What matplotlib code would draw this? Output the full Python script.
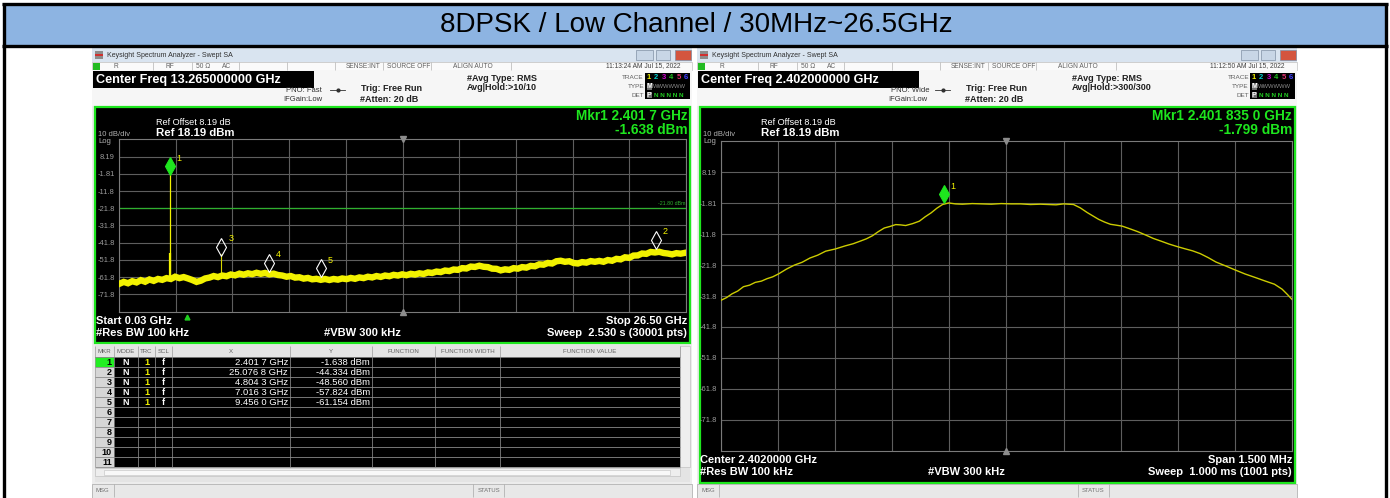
import matplotlib
matplotlib.use("Agg")
import matplotlib.pyplot as plt
from matplotlib.patches import Rectangle
from matplotlib import transforms

# ---------------- data ----------------
title = "8DPSK / Low Channel / 30MHz~26.5GHz"

ref_level = 18.19
db_per_div = 10
grid_labels = ["8.19", "-1.81", "-11.8", "-21.8", "-31.8", "-41.8", "-51.8", "-61.8", "-71.8"]

# left: full sweep 0.03 - 26.5 GHz
sweep_start, sweep_stop = 0.03, 26.50
sweep_freq = [0.03, 0.25, 0.45, 0.65, 0.85, 1.05, 1.25, 1.45, 1.65, 1.85, 2.05, 2.25, 2.45,
              2.65, 2.85, 3.05, 3.25, 3.45, 3.65, 3.85, 4.05, 4.25, 4.45, 4.65, 4.85, 5.05,
              5.25, 5.45, 5.65, 5.85, 6.05, 6.25, 6.45, 6.65, 6.85, 7.05, 7.25, 7.45, 7.65,
              7.85, 8.05, 8.25, 8.45, 8.65, 8.85, 9.05, 9.25, 9.45, 9.65, 9.85, 10.05, 10.25,
              10.45, 10.65, 10.85, 11.05, 11.25, 11.45, 11.65, 11.85, 12.05, 12.25, 12.45,
              12.65, 12.85, 13.05, 13.25, 13.45, 13.65, 13.85, 14.05, 14.25, 14.45, 14.65,
              14.85, 15.05, 15.25, 15.45, 15.65, 15.85, 16.05, 16.25, 16.45, 16.65, 16.85,
              17.05, 17.25, 17.45, 17.65, 17.85, 18.05, 18.25, 18.45, 18.65, 18.85, 19.05,
              19.25, 19.45, 19.65, 19.85, 20.05, 20.25, 20.45, 20.65, 20.85, 21.05, 21.25,
              21.45, 21.65, 21.85, 22.05, 22.25, 22.45, 22.65, 22.85, 23.05, 23.25, 23.45,
              23.65, 23.85, 24.05, 24.25, 24.45, 24.65, 24.85, 25.05, 25.25, 25.45, 25.65,
              25.85, 26.05, 26.25, 26.50]
sweep_level = [-65.8, -64.6, -65.4, -64.2, -64.9, -63.6, -64.5, -63.2, -64.0, -62.9, -63.4,
               -62.4, -62.9, -61.6, -62.4, -61.8, -62.6, -63.5, -64.6, -63.9, -62.6, -62.1,
               -61.2, -61.8, -60.9, -61.3, -60.3, -60.8, -59.8, -60.4, -59.6, -60.1, -59.3,
               -59.9, -59.4, -60.2, -59.8, -60.6, -60.9, -61.6, -61.2, -62.1, -61.9, -62.7,
               -62.3, -63.1, -62.8, -63.4, -62.9, -63.5, -62.9, -63.3, -62.6, -63.0, -62.3,
               -62.8, -62.0, -62.4, -61.6, -62.0, -61.2, -61.7, -60.9, -61.3, -60.5, -60.9,
               -60.2, -60.7, -59.9, -60.3, -59.6, -60.0, -59.1, -59.4, -58.6, -58.9, -58.0,
               -58.3, -57.4, -57.6, -56.6, -56.8, -55.7, -55.9, -55.2, -55.8, -56.0, -56.9,
               -57.0, -57.9, -57.3, -57.6, -56.6, -56.9, -56.0, -56.3, -55.3, -55.5, -54.4,
               -54.6, -53.6, -53.9, -52.6, -52.3, -52.9, -52.6, -53.6, -53.9, -53.1, -53.4,
               -52.5, -52.9, -52.4, -52.9, -51.9, -52.3, -51.2, -51.5, -50.3, -50.6, -49.3,
               -49.2, -48.1, -48.3, -47.2, -47.5, -47.1, -47.8, -48.1, -48.6, -47.9, -48.2,
               -47.6]
spike_freq = [2.4017, 2.3950, 4.8043]
spike_base = [-62.6, -62.6, -61.0]
spike_top = [-1.638, -48.0, -48.56]
display_line = -21.80
sweep_pointer = 3.2

mkr_id = ["1", "2", "3", "4", "5"]
mkr_freq = [2.4017, 25.0768, 4.8043, 7.0163, 9.4560]
mkr_level = [-1.638, -44.334, -48.560, -57.824, -61.154]
mkr_x_text = ["2.401 7 GHz", "25.076 8 GHz", "4.804 3 GHz", "7.016 3 GHz", "9.456 0 GHz"]
mkr_y_text = ["-1.638 dBm", "-44.334 dBm", "-48.560 dBm", "-57.824 dBm", "-61.154 dBm"]
table_rows = 11

# right: 2.402 GHz centre, 1.5 MHz span
zoom_center, zoom_span = 2.402, 0.0015
zoom_freq = [2.401250, 2.401265, 2.401279, 2.401294, 2.401309, 2.401325, 2.401340, 2.401356,
             2.401371, 2.401386, 2.401402, 2.401422, 2.401443, 2.401463, 2.401484, 2.401504,
             2.401525, 2.401550, 2.401576, 2.401597, 2.401617, 2.401632, 2.401648, 2.401663,
             2.401679, 2.401694, 2.401709, 2.401722, 2.401735, 2.401753, 2.401771, 2.401786,
             2.401802, 2.401817, 2.401832, 2.401848, 2.401866, 2.401884, 2.401910, 2.401935,
             2.401960, 2.401986, 2.402012, 2.402037, 2.402063, 2.402089, 2.402110, 2.402130,
             2.402150, 2.402163, 2.402176, 2.402194, 2.402212, 2.402227, 2.402242, 2.402258,
             2.402273, 2.402289, 2.402304, 2.402325, 2.402345, 2.402366, 2.402386, 2.402407,
             2.402427, 2.402448, 2.402468, 2.402489, 2.402509, 2.402530, 2.402550, 2.402576,
             2.402601, 2.402627, 2.402653, 2.402678, 2.402704, 2.402714, 2.402724, 2.402737,
             2.402750]
zoom_level = [-33.2, -32.3, -31.1, -30.2, -28.8, -28.3, -27.4, -27.0, -26.2, -25.6, -24.6,
              -23.1, -21.8, -20.9, -19.5, -18.6, -17.3, -16.6, -15.6, -14.9, -14.0, -13.3,
              -12.3, -11.0, -9.8, -9.3, -8.7, -8.8, -9.0, -8.4, -7.6, -6.2, -4.9, -3.4,
              -2.2, -1.7, -2.0, -2.1, -1.9, -2.0, -2.1, -1.9, -2.0, -2.0, -2.2, -2.1, -2.2,
              -2.3, -2.0, -2.1, -2.2, -3.3, -4.8, -5.9, -7.0, -7.9, -8.6, -8.9, -9.2, -10.1,
              -11.0, -12.1, -13.2, -14.1, -15.0, -15.8, -16.5, -17.2, -18.1, -19.4, -20.8,
              -22.1, -23.4, -24.7, -25.8, -26.9, -28.0, -28.8, -29.6, -31.2, -32.9]
zoom_mkr_freq = [2.4018350]
zoom_mkr_level = [-1.799]

# ---------------- canvas ----------------
W, H = 1390, 498
fig = plt.figure(figsize=(W / 100, H / 100), dpi=100)
bg = fig.add_axes([0, 0, 1, 1])
bg.set_xlim(0, W)
bg.set_ylim(H, 0)
bg.axis("off")

NARROW = ["Liberation Sans Narrow", "Liberation Sans", "DejaVu Sans"]
SANS = ["Liberation Sans", "DejaVu Sans"]
GREEN = "#1ee61e"
YELLOW = "#f2f200"


def box(x0, y0, x1, y1, fc, ec="none", lw=0.0, z=1):
    bg.add_patch(Rectangle((x0, y0), x1 - x0, y1 - y0, facecolor=fc,
                           edgecolor=ec, linewidth=lw, zorder=z))


def put(x, y, s, size=6, color="black", bold=False, ha="left", fam=NARROW, z=6):
    bg.text(x, y, s, fontsize=size, color=color, ha=ha, va="center", family=fam,
            fontweight="bold" if bold else "normal", zorder=z)


def vl(x, y0, y1, color, lw=0.6, z=4):
    bg.plot([x, x], [y0, y1], color=color, lw=lw, zorder=z, solid_capstyle="butt")


def hl(y, x0, x1, color, lw=0.6, z=4):
    bg.plot([x0, x1], [y, y], color=color, lw=lw, zorder=z, solid_capstyle="butt")


# outer table + title band
box(4, 4, 1386, 46, "#8db4e2")
hl(4, 2, 1388, "black", 2.4)
hl(46, 2, 1388, "black", 2.4)
vl(4, 3, 498, "black", 2.4)
vl(1386, 3, 498, "black", 2.4)
put(696, 24.5, title, size=20, ha="center")


def window(x0, center_text, pno, avg_hold, stamp, panel_bottom):
    x1 = x0 + 600
    box(x0, 48, x1, 498, "#ececec")
    # title bar
    box(x0, 48, x1, 62, "#d9e4f0")
    box(x0 + 3, 51, x0 + 11, 59, "#8c8c8c")
    box(x0 + 3, 53.5, x0 + 11, 55.5, "#d03030")
    put(x0 + 15, 55, "Keysight Spectrum Analyzer - Swept SA", size=5, color="#303030", fam=SANS)
    for bx0, bx1, c in ((544, 561, "#c8d6e6"), (564, 578, "#c8d6e6"), (583, 599, "#d4553f")):
        box(x0 + bx0, 50, x0 + bx1, 60, c, ec="#8090a4", lw=0.5, z=2)
    # status row
    box(x0, 62, x1, 70, "#fafafa", ec="#b4b4b4", lw=0.4)
    box(x0 + 1, 62.5, x0 + 8, 69.5, "#22bb22", z=2)
    for d in (61, 100, 147, 195, 243, 291, 339, 419):
        vl(x0 + d, 62, 70, "#b4b4b4", 0.5)
    for s, d in (("R", 22), ("RF", 73), ("50 \u03a9", 104), ("AC", 130),
                 ("SENSE:INT", 254), ("SOURCE OFF", 295), ("ALIGN AUTO", 361)):
        put(x0 + d, 66, s, size=4.8, color="#606060")
    put(x0 + 588, 66, stamp, size=4.8, color="#404040", ha="right")
    # settings header
    box(x0, 70, x1, 106, "#f6f6f6")
    box(x0 + 1, 70.5, x0 + 222, 88, "black", z=2)
    put(x0 + 4, 79.5, center_text, size=9.1, color="white", bold=True)
    put(x0 + 194, 90, pno, size=5.5, color="#303030")
    put(x0 + 191, 99, "IFGain:Low", size=5.5, color="#303030")
    bg.plot([x0 + 238, x0 + 253], [90, 90], color="#303030", lw=0.6, zorder=4)
    bg.plot([x0 + 245.5], [90], marker="o", ms=2, color="#303030", zorder=4)
    put(x0 + 269, 88.5, "Trig: Free Run", size=6.5, color="#202020", bold=True)
    put(x0 + 268, 99, "#Atten: 20 dB", size=6.5, color="#202020", bold=True)
    put(x0 + 375, 78, "#Avg Type: RMS", size=6.5, color="#202020", bold=True)
    put(x0 + 375, 87.5, avg_hold, size=6.5, color="#202020", bold=True)
    for s, yy in (("TRACE", 77), ("TYPE", 86), ("DET", 95)):
        put(x0 + 552, yy, s, size=4.6, color="#606060", ha="right")
    box(x0 + 553, 72.5, x0 + 598, 98.5, "black", z=2)
    tcol = ["#f0f000", "#00d0d0", "#d000d0", "#20c020", "#e03070", "#4040ff"]
    for i, c in enumerate(tcol):
        put(x0 + 557 + i * 7.4, 77, str(i + 1), size=5.5, color=c, bold=True, ha="center")
    box(x0 + 554.5, 82.5, x0 + 560, 89.5, "#707070", z=3)
    box(x0 + 554.5, 91.5, x0 + 560, 98, "#707070", z=3)
    put(x0 + 557.3, 86, "M", size=5, color="white", bold=True, ha="center")
    put(x0 + 557.3, 95, "P", size=5, color="white", bold=True, ha="center")
    put(x0 + 561, 86, "WWWWWW", size=4.2, color="#8a8a8a")
    put(x0 + 562, 95, "N N N N N", size=4.6, color="#22cc22", bold=True)
    # black display panel
    box(x0 + 2.5, 106.5, x1 - 2, panel_bottom, "black", ec=GREEN, lw=1.6, z=2)
    put(x0 + 64, 122.5, "Ref Offset 8.19 dB", size=6.6, color="white")
    put(x0 + 64, 132.5, "Ref 18.19 dBm", size=8.2, color="white", bold=True)
    put(x0 + 6, 134, "10 dB/div", size=5.5, color="#b0b0b0")
    put(x0 + 6, 141.5, "Log", size=5.5, color="#b0b0b0")
    # message bar
    box(x0, 483.5, x1, 497.5, "#e8e8e8", ec="#a8a8a8", lw=0.5, z=3)
    put(x0 + 4, 490.5, "MSG", size=4.3, color="#707070")
    vl(x0 + 22, 484, 497, "#a8a8a8", 0.5)
    vl(x0 + 381, 484, 497, "#a8a8a8", 0.5)
    vl(x0 + 412, 484, 497, "#a8a8a8", 0.5)
    put(x0 + 396.5, 490.5, "STATUS", size=4.3, color="#707070", ha="center")


def spectrum_axes(px0, py0, px1, py1, fmin, fmax):
    ax = fig.add_axes([px0 / W, 1 - py1 / H, (px1 - px0) / W, (py1 - py0) / H])
    ax.set_facecolor("black")
    bottom = ref_level - 10 * db_per_div
    ax.set_xlim(fmin, fmax)
    ax.set_ylim(bottom, ref_level)
    step = (fmax - fmin) / 10
    ax.set_xticks([fmin + i * step for i in range(11)])
    ax.set_yticks([ref_level - db_per_div * (i + 1) for i in range(len(grid_labels))])
    ax.set_yticklabels(grid_labels, family=NARROW)
    ax.tick_params(length=0, labelbottom=False, labelsize=5.5, labelcolor="#9a9a9a", pad=3)
    ax.grid(color="#5e5e5e", lw=0.8)
    for sp in ax.spines.values():
        sp.set_color("#7a7a7a")
        sp.set_linewidth(0.8)
    mid = (fmin + fmax) / 2
    ax.plot([mid], [ref_level], marker="v", ms=4, color="#8c8c8c", clip_on=False, zorder=5)
    ax.plot([mid], [bottom], marker="^", ms=4, color="#8c8c8c", clip_on=False, zorder=5)
    return ax


def draw_marker(ax, f, lvl, label, filled, lift):
    tr = transforms.offset_copy(ax.transData, fig=fig, x=0, y=lift, units="dots")
    ax.plot([f], [lvl], marker="d", ms=8.8, mew=0.8,
            mfc=GREEN if filled else "none", mec=GREEN if filled else "white",
            transform=tr, clip_on=False, zorder=6)
    ax.annotate(label, (f, lvl), xytext=(7, lift + 8), textcoords="offset pixels",
                color=YELLOW, fontsize=6.5, family=NARROW, va="center", ha="left", zorder=6)


# ---------------- left analyzer ----------------
LX = 92
window(LX, "Center Freq 13.265000000 GHz", "PNO: Fast", "Avg|Hold:>10/10",
       "11:13:24 AM Jul 15, 2022", 343)
put(LX + 596, 116, "Mkr1 " + mkr_x_text[0], size=9.8, color=GREEN, bold=True, ha="right")
put(LX + 596, 130, mkr_y_text[0], size=9.8, color=GREEN, bold=True, ha="right")
put(LX + 4, 320.5, "Start 0.03 GHz", size=8, color="white", bold=True)
put(LX + 4, 332.5, "#Res BW 100 kHz", size=8, color="white", bold=True)
put(LX + 270, 332.5, "#VBW 300 kHz", size=8, color="white", bold=True, ha="center")
put(LX + 595, 320.5, "Stop 26.50 GHz", size=8, color="white", bold=True, ha="right")
put(LX + 595, 332.5, "Sweep  2.530 s (30001 pts)", size=8, color="white", bold=True, ha="right")

ax1 = spectrum_axes(119, 139.5, 686, 311.5, sweep_start, sweep_stop)
ax1.axhline(display_line, color="#2fb02f", lw=0.9, zorder=2)
ax1.text(sweep_stop, display_line + 1.2, "%.2f dBm" % display_line, color="#2fb02f",
         fontsize=3.8, ha="right", va="bottom", family=NARROW)
ax1.vlines(spike_freq[:1], spike_base[:1], spike_top[:1], color=YELLOW, lw=0.9, zorder=3)
ax1.vlines(spike_freq[1:2], spike_base[1:2], spike_top[1:2], color=YELLOW, lw=1.6, zorder=3)
ax1.vlines(spike_freq[2:], spike_base[2:], spike_top[2:], color="#d8d800", lw=0.8, zorder=3)
ax1.plot(sweep_freq, sweep_level, color=YELLOW, lw=4.6, zorder=4, solid_joinstyle="miter")
for i in range(len(mkr_id)):
    draw_marker(ax1, mkr_freq[i], mkr_level[i], mkr_id[i], i == 0, 7.5)
tr_low = transforms.offset_copy(ax1.transData, fig=fig, x=0, y=-5, units="dots")
ax1.plot([sweep_pointer], [ref_level - 10 * db_per_div], marker="^", ms=3.5,
         color="#20d020", transform=tr_low, clip_on=False)

# marker table
tx0, tx1 = LX + 3, LX + 598
box(tx0, 345, tx1, 482, "#e4e4e4", z=2)
cols = [3, 22, 46, 63, 80, 198, 280, 343, 408, 588]
heads = ["MKR", "MODE", "TRC", "SCL", "X", "Y", "FUNCTION", "FUNCTION WIDTH", "FUNCTION VALUE"]
row_h = 10
ty0 = 357
box(LX + 22, ty0, LX + 588, ty0 + table_rows * row_h, "black", z=3)
box(LX + 3, ty0, LX + 22, ty0 + table_rows * row_h, "#d6d6d6", z=3)
box(LX + 3, ty0, LX + 22, ty0 + row_h, "#22ee22", z=3)
for c0, c1, hname in zip(cols[:-1], cols[1:], heads):
    put(LX + (c0 + c1) / 2, 351.5, hname, size=4.4, color="#606060", ha="center")
for c in cols:
    vl(LX + c, 346, ty0 + table_rows * row_h, "#9a9a9a", 0.5, z=5)
for r in range(table_rows + 1):
    hl(ty0 + r * row_h, LX + 3, LX + 588, "#8a8a8a", 0.6, z=5)
for r in range(table_rows):
    put(LX + 20, ty0 + r * row_h + 5, str(r + 1), size=6.5, color="black", bold=True, ha="right")
for r in range(len(mkr_id)):
    yy = ty0 + r * row_h + 5
    put(LX + 34, yy, "N", size=6.5, color="white", bold=True, ha="center")
    put(LX + 54.5, yy, "1", size=6.5, color=YELLOW, bold=True, ha="center")
    put(LX + 71.5, yy, "f", size=6.5, color="white", bold=True, ha="center")
    put(LX + 196, yy, mkr_x_text[r], size=6.8, color="white", ha="right")
    put(LX + 278, yy, mkr_y_text[r], size=6.8, color="white", ha="right")
box(LX + 588, 346, LX + 598, 467, "#eeeeee", ec="#b8b8b8", lw=0.4, z=3)
box(LX + 3, 468, LX + 588, 476, "#eeeeee", ec="#b8b8b8", lw=0.4, z=3)
box(LX + 12, 469.5, LX + 578, 474.5, "#f8f8f8", ec="#c0c0c0", lw=0.4, z=4)

# ---------------- right analyzer ----------------
RX = 697
window(RX, "Center Freq 2.402000000 GHz", "PNO: Wide", "Avg|Hold:>300/300",
       "11:12:50 AM Jul 15, 2022", 483)
put(RX + 595, 116, "Mkr1 2.401 835 0 GHz", size=9.9, color=GREEN, bold=True, ha="right")
put(RX + 595, 130, "%.3f dBm" % zoom_mkr_level[0], size=9.9, color=GREEN, bold=True, ha="right")
put(RX + 3, 459.5, "Center 2.4020000 GHz", size=8, color="white", bold=True)
put(RX + 3, 472, "#Res BW 100 kHz", size=8, color="white", bold=True)
put(RX + 269, 472, "#VBW 300 kHz", size=8, color="white", bold=True, ha="center")
put(RX + 595, 459.5, "Span 1.500 MHz", size=8, color="white", bold=True, ha="right")
put(RX + 595, 472, "Sweep  1.000 ms (1001 pts)", size=8, color="white", bold=True, ha="right")

ax2 = spectrum_axes(721, 141.5, 1292, 450.5,
                    zoom_center - zoom_span / 2, zoom_center + zoom_span / 2)
ax2.plot(zoom_freq, zoom_level, color="#cccc00", lw=1.0, zorder=4)
draw_marker(ax2, zoom_mkr_freq[0], zoom_mkr_level[0], "1", True, 9)

fig.savefig("out.png", dpi=100)
